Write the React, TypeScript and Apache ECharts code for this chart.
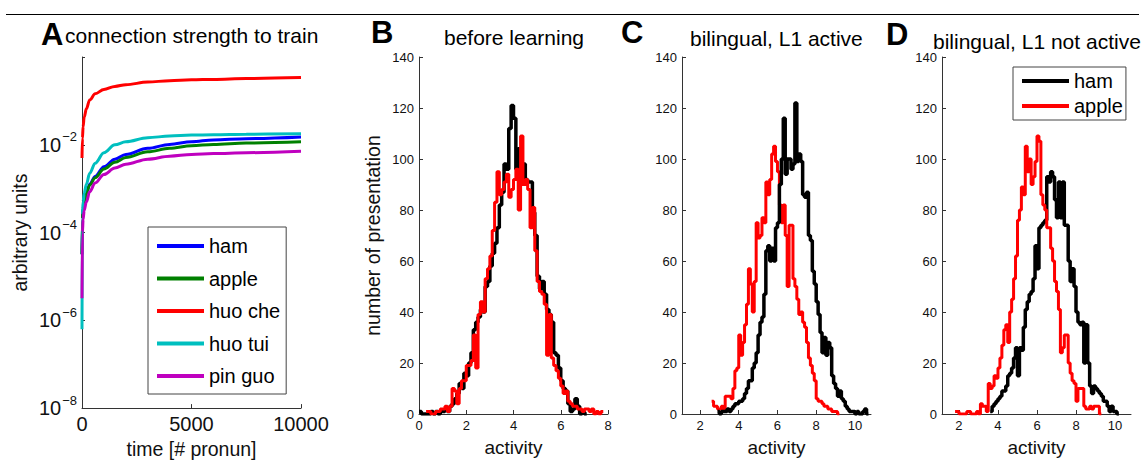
import React, { useEffect, useRef } from 'react';
import * as echarts from 'echarts';

// ---------- Panel A: connection strength (log scale) ----------
const timeSteps = [0, 20, 50, 100, 200, 350, 600, 1000, 1500, 2000, 3000, 4000, 5000, 6000, 7500, 10000];
const hamStrength = [3.2e-5, 2.0e-4, 3.5e-4, 5.0e-4, 7.9e-4, 1.26e-3, 1.9e-3, 3.16e-3, 4.7e-3, 6.0e-3, 8.3e-3, 1.02e-2, 1.17e-2, 1.29e-2, 1.38e-2, 1.51e-2];
const appleStrength = [3.2e-5, 2.0e-4, 3.5e-4, 5.0e-4, 7.9e-4, 1.2e-3, 1.78e-3, 2.8e-3, 4.0e-3, 5.1e-3, 6.9e-3, 8.3e-3, 9.5e-3, 1.02e-2, 1.1e-2, 1.17e-2];
const huoCheStrength = [5.0e-3, 1.4e-2, 2.6e-2, 4.3e-2, 6.6e-2, 0.105, 0.145, 0.182, 0.214, 0.234, 0.269, 0.288, 0.302, 0.309, 0.324, 0.339];
const huoTuiStrength = [6.3e-7, 2.5e-4, 5.0e-4, 7.9e-4, 1.26e-3, 2.24e-3, 3.8e-3, 6.6e-3, 1.0e-2, 1.17e-2, 1.45e-2, 1.58e-2, 1.66e-2, 1.70e-2, 1.74e-2, 1.78e-2];
const pinGuoStrength = [3.2e-6, 1.0e-4, 2.0e-4, 3.2e-4, 5.0e-4, 8.5e-4, 1.35e-3, 2.1e-3, 2.95e-3, 3.6e-3, 4.7e-3, 5.5e-3, 6.0e-3, 6.3e-3, 6.6e-3, 7.1e-3];
const wordNames = ['ham', 'apple', 'huo che', 'huo tui', 'pin guo'];
const timeTicks = [0, 5000, 10000];

// ---------- Histograms (bin width 0.1) ----------
const binWidth = 0.1;
const countTicks = [0, 20, 40, 60, 80, 100, 120, 140];
const activityTicks = [2, 4, 6, 8, 10];

const bHamStart = 0.0;
const bHamCounts = [1, 0, 0, 0, 0, 1, 0, 1, 0, 1, 1, 2, 1, 3, 4, 6, 8, 12, 10, 16, 15, 20, 24, 33, 36, 38, 41, 40, 50, 52, 58, 63, 67, 73, 82, 87, 98, 96, 112, 121, 116, 96, 104, 96, 98, 92, 91, 91, 79, 70, 54, 49, 52, 47, 41, 39, 36, 24, 23, 18, 13, 10, 9, 4, 1, 2, 6, 3, 0, 1, 0];
const bAppleStart = 0.3;
const bAppleCounts = [1, 1, 0, 0, 1, 1, 2, 2, 3, 1, 3, 10, 9, 4, 10, 13, 13, 19, 19, 21, 31, 18, 39, 44, 40, 53, 57, 62, 72, 83, 95, 86, 88, 91, 94, 85, 88, 92, 96, 80, 109, 90, 92, 88, 73, 81, 64, 52, 48, 47, 43, 23, 39, 22, 19, 17, 14, 11, 8, 9, 5, 4, 3, 3, 2, 2, 1, 2, 2, 1, 2, 0, 1, 0, 1];

const cHamStart = 2.9;
const cHamCounts = [1, 0, 1, 1, 1, 2, 1, 2, 3, 4, 4, 5, 5, 6, 8, 10, 13, 13, 18, 20, 24, 31, 36, 38, 47, 64, 66, 60, 65, 60, 73, 75, 90, 100, 116, 94, 100, 100, 96, 98, 122, 99, 102, 99, 86, 85, 87, 70, 68, 56, 51, 44, 39, 32, 24, 30, 23, 28, 26, 15, 12, 10, 7, 9, 6, 5, 3, 2, 1, 1, 1, 0, 1, 0, 0, 1, 2, 0];
const cAppleStart = 2.6;
const cAppleCounts = [5, 3, 3, 2, 2, 3, 2, 7, 7, 7, 6, 10, 17, 18, 31, 23, 28, 35, 43, 57, 51, 40, 52, 75, 69, 70, 77, 75, 91, 86, 92, 102, 105, 99, 95, 82, 75, 82, 70, 50, 74, 74, 53, 50, 45, 39, 40, 36, 34, 28, 22, 19, 16, 13, 6, 5, 5, 4, 3, 3, 2, 2, 1, 1, 1, 0];

const dHamStart = 3.6;
const dHamCounts = [1, 3, 4, 5, 6, 7, 9, 9, 11, 15, 16, 18, 22, 26, 15, 26, 25, 34, 41, 44, 47, 48, 53, 66, 57, 73, 74, 75, 76, 93, 91, 95, 93, 84, 77, 91, 77, 91, 74, 74, 60, 52, 57, 50, 40, 36, 35, 36, 20, 35, 20, 11, 8, 11, 10, 9, 8, 7, 5, 5, 3, 1, 3, 1, 1, 0];
const dAppleStart = 1.8;
const dAppleCounts = [1, 1, 0, 0, 0, 0, 1, 1, 0, 0, 0, 1, 0, 4, 3, 3, 1, 12, 10, 11, 15, 14, 18, 22, 27, 33, 35, 28, 40, 45, 53, 62, 76, 80, 89, 86, 105, 95, 100, 90, 93, 99, 109, 107, 86, 82, 80, 73, 73, 65, 60, 52, 48, 41, 24, 26, 31, 31, 20, 16, 13, 12, 5, 10, 10, 10, 3, 2, 2, 3, 2, 3, 3, 3, 0];

const FONT = '"Liberation Sans", Arial, Helvetica, sans-serif';
const AXIS_COLOR = '#333333';
const TEXT_COLOR = '#111';
const BLACK = '#000000';
const RED = '#ff0000';
const curveColors = ['#0000ff', '#008000', '#ff0000', '#00bfbf', '#bf00bf'];

function histSteps(start: number, counts: number[]): number[][] {
  const pts = counts.map((c, i) => [Math.round((start + i * binWidth) * 1000) / 1000, c]);
  const end = Math.round((start + counts.length * binWidth) * 1000) / 1000;
  pts.push([end, counts[counts.length - 1]]);
  return pts;
}

function curve(values: number[]): number[][] {
  return timeSteps.map((t, i) => [t, values[i]]);
}

export default function App() {
  const ref = useRef<HTMLDivElement>(null);
  useEffect(() => {
    if (!ref.current) return;
    const chart = echarts.init(ref.current, undefined, { renderer: 'svg' });

    const grids = [
      { left: 82, top: 57, width: 219, height: 357 },
      { left: 419, top: 57, width: 189, height: 357 },
      { left: 682, top: 57, width: 189, height: 357 },
      { left: 942, top: 57, width: 189, height: 357 },
    ];

    const axisLine = { show: true, lineStyle: { color: AXIS_COLOR, width: 1 } };
    const tickStyle = { show: true, inside: true, length: 4, lineStyle: { color: AXIS_COLOR } };
    const smallLabel = { color: TEXT_COLOR, fontFamily: FONT, fontSize: 13, margin: 5 };

    const histX = (gi: number, min: number, max: number, custom: boolean) => ({
      type: 'value',
      gridIndex: gi,
      min,
      max,
      ...(custom ? {} : { interval: 2 }),
      name: 'activity',
      nameLocation: 'middle',
      nameGap: 24,
      nameTextStyle: { fontFamily: FONT, fontSize: 19, color: TEXT_COLOR },
      axisLine,
      axisTick: { ...tickStyle, ...(custom ? { customValues: activityTicks } : {}) },
      axisLabel: { ...smallLabel, margin: 5, ...(custom ? { customValues: activityTicks } : {}) },
      splitLine: { show: false },
    });

    const histY = (gi: number, withName: boolean) => ({
      type: 'value',
      gridIndex: gi,
      min: countTicks[0],
      max: countTicks[countTicks.length - 1],
      interval: countTicks[1] - countTicks[0],
      ...(withName
        ? {
            name: 'number of presentation',
            nameLocation: 'middle',
            nameGap: 36,
            nameTextStyle: { fontFamily: FONT, fontSize: 19.5, color: TEXT_COLOR },
          }
        : {}),
      axisLine,
      axisTick: tickStyle,
      axisLabel: smallLabel,
      splitLine: { show: false },
    });

    const lineBase = { type: 'line', showSymbol: false, symbol: 'none', animation: false };

    const curveData = [hamStrength, appleStrength, huoCheStrength, huoTuiStrength, pinGuoStrength];

    const series: any[] = [];
    curveData.forEach((vals, i) => {
      series.push({
        ...lineBase,
        name: wordNames[i],
        xAxisIndex: 0,
        yAxisIndex: 0,
        data: curve(vals),
        smooth: 0.35,
        smoothMonotone: 'x',
        color: curveColors[i],
        itemStyle: { color: curveColors[i] },
        lineStyle: { color: curveColors[i], width: 3 },
      });
    });

    const hists: [string, number, number, number[], string][] = [
      ['B-ham', 1, bHamStart, bHamCounts, BLACK],
      ['B-apple', 1, bAppleStart, bAppleCounts, RED],
      ['C-apple', 2, cAppleStart, cAppleCounts, RED],
      ['C-ham', 2, cHamStart, cHamCounts, BLACK],
      ['D-ham', 3, dHamStart, dHamCounts, BLACK],
      ['D-apple', 3, dAppleStart, dAppleCounts, RED],
    ];
    hists.forEach(([name, gi, start, counts, color]) => {
      series.push({
        ...lineBase,
        name,
        xAxisIndex: gi,
        yAxisIndex: gi,
        step: 'end',
        data: histSteps(start, counts),
        color,
        itemStyle: { color },
        lineStyle: { color, width: color === BLACK ? 3.5 : 3 },
      });
    });

    const letter = (t: string, x: number, y: number) => ({
      type: 'text',
      x,
      y,
      style: {
        text: t,
        font: `bold 31px ${FONT}`,
        fill: '#000',
        textAlign: 'left',
        textVerticalAlign: 'middle',
      },
    });
    const title = (t: string, x: number, y: number, align: string) => ({
      type: 'text',
      x,
      y,
      style: {
        text: t,
        font: `21px ${FONT}`,
        fill: '#000',
        textAlign: align,
        textVerticalAlign: 'middle',
      },
    });

    const option: any = {
      animation: false,
      backgroundColor: '#ffffff',
      grid: grids,
      xAxis: [
        {
          type: 'value',
          gridIndex: 0,
          min: timeTicks[0],
          max: timeTicks[timeTicks.length - 1],
          interval: timeTicks[1] - timeTicks[0],
          name: 'time [# pronun]',
          nameLocation: 'middle',
          nameGap: 29,
          nameTextStyle: { fontFamily: FONT, fontSize: 19.5, color: TEXT_COLOR },
          axisLine,
          axisTick: tickStyle,
          axisLabel: {
            color: TEXT_COLOR,
            fontFamily: FONT,
            fontSize: 20,
            margin: 6,
            formatter: (v: number) => String(v),
          },
          splitLine: { show: false },
        },
        histX(1, 0, 8, false),
        histX(2, 1.07, 10.83, true),
        histX(3, 1.13, 10.82, true),
      ],
      yAxis: [
        {
          type: 'log',
          logBase: 10,
          gridIndex: 0,
          min: 1e-8,
          max: 1,
          interval: 2,
          name: 'arbitrary units',
          nameLocation: 'middle',
          nameGap: 52,
          nameTextStyle: { fontFamily: FONT, fontSize: 19.5, color: TEXT_COLOR },
          axisLine,
          axisTick: { ...tickStyle, length: 3 },
          axisLabel: {
            margin: 5,
            formatter: (v: number) => {
              const e = Math.round(Math.log10(v));
              if (e >= 0) return '';
              return `{b|10}{s|\u2212${Math.abs(e)}}`;
            },
            rich: {
              b: { fontFamily: FONT, fontSize: 20, color: TEXT_COLOR },
              s: { fontFamily: FONT, fontSize: 13, color: TEXT_COLOR, padding: [0, 0, 16, 1] },
            },
          },
          splitLine: { show: false },
        },
        histY(1, true),
        histY(2, false),
        histY(3, false),
      ],
      legend: [
        {
          data: wordNames,
          orient: 'vertical',
          left: 148,
          top: 227,
          padding: [9, 6, 8, 9],
          itemGap: 12.5,
          itemWidth: 47,
          itemHeight: 4,
          icon: 'rect',
          borderColor: '#444',
          borderWidth: 1,
          backgroundColor: '#fff',
          selectedMode: false,
          textStyle: { fontFamily: FONT, fontSize: 20, color: '#000', lineHeight: 20 },
        },
        {
          data: ['D-ham', 'D-apple'],
          formatter: (n: string) => n.slice(2),
          orient: 'vertical',
          left: 1013,
          top: 67,
          padding: [4, 3, 4, 9],
          itemGap: 5,
          itemWidth: 47,
          itemHeight: 4,
          icon: 'rect',
          borderColor: '#444',
          borderWidth: 1,
          backgroundColor: '#fff',
          selectedMode: false,
          textStyle: { fontFamily: FONT, fontSize: 20, color: '#000', lineHeight: 20 },
        },
      ],
      graphic: [
        { type: 'line', shape: { x1: 6, y1: 14.5, x2: 1139, y2: 14.5 }, style: { stroke: '#000', lineWidth: 1 } },
        letter('A', 41, 34),
        title('connection strength to train', 65, 35, 'left'),
        letter('B', 371, 32),
        title('before learning', 514, 37, 'center'),
        letter('C', 621, 32),
        title('bilingual, L1 active', 690, 38, 'left'),
        letter('D', 886, 34),
        title('bilingual, L1 not active', 933, 41, 'left'),
      ],
      series,
    };

    chart.setOption(option);
    return () => chart.dispose();
  }, []);

  return (
    <div
      ref={ref}
      style={{ position: 'fixed', left: 0, top: 0, width: 1144, height: 464, background: '#fff' }}
    />
  );
}
